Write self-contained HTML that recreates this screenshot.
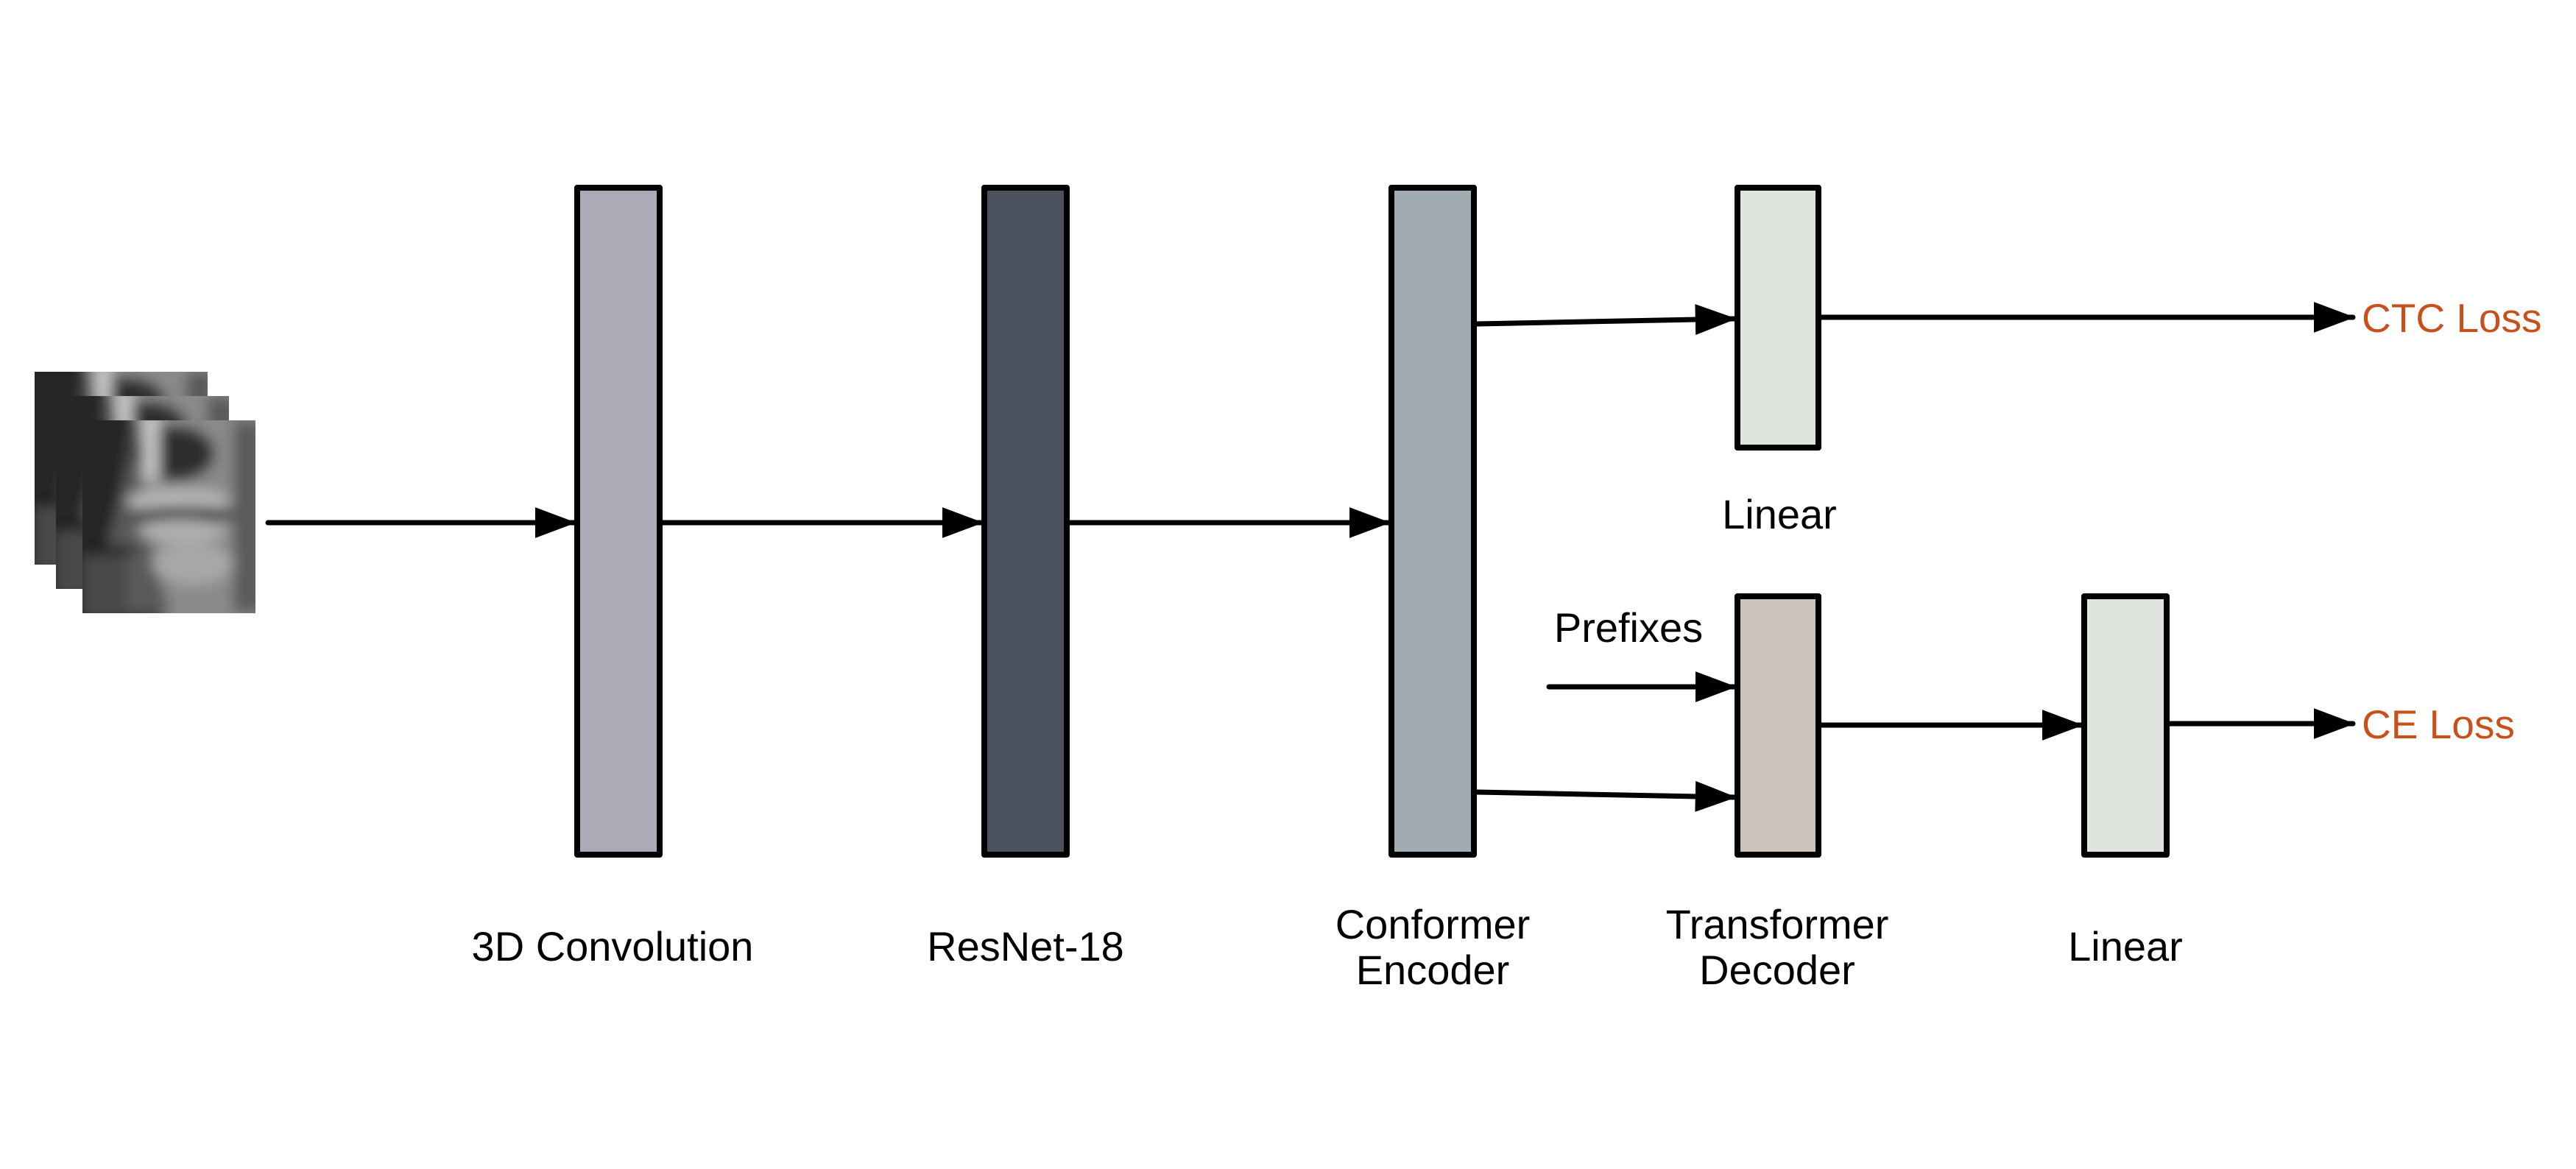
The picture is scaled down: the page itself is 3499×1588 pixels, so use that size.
<!DOCTYPE html>
<html><head><meta charset="utf-8"><style>
html,body{margin:0;padding:0;background:#fff;}
body{width:3499px;height:1583px;overflow:hidden;}
text{font-family:"Liberation Sans",sans-serif;}
</style></head><body>
<svg width="3499" height="1583" viewBox="0 0 3499 1583" xmlns="http://www.w3.org/2000/svg">
<defs>
<marker id="ah" markerWidth="8" markerHeight="6" refX="7.6" refY="3" orient="auto" markerUnits="strokeWidth">
<path d="M0,0 L8,3 L0,6 z" fill="#000"/>
</marker>
<filter id="bl" x="-20%" y="-20%" width="140%" height="140%"><feGaussianBlur stdDeviation="9"/></filter>
<clipPath id="fc"><rect x="0" y="0" width="235" height="262"/></clipPath>
<g id="face">
<g clip-path="url(#fc)">
<rect x="0" y="0" width="235" height="262" fill="#3a3a3a"/>
<g filter="url(#bl)">
<rect x="-20" y="-20" width="90" height="300" fill="#262626"/>
<path d="M70,-20 L260,-20 L260,290 L120,290 Q70,200 68,120 Z" fill="#8a8a8a"/>
<path d="M80,0 Q72,120 120,262 L60,262 Q20,200 40,150 Q60,80 70,0Z" fill="#5a5a5a"/>
<ellipse cx="125" cy="45" rx="55" ry="38" fill="#2e2e2e"/>
<ellipse cx="130" cy="110" rx="70" ry="18" fill="#b5b5b5"/>
<ellipse cx="140" cy="128" rx="75" ry="10" fill="#2a2a2a"/>
<ellipse cx="135" cy="150" rx="60" ry="16" fill="#b0b0b0"/>
<ellipse cx="150" cy="195" rx="55" ry="28" fill="#a8a8a8"/>
<rect x="205" y="0" width="40" height="262" fill="#5a5a5a"/>
<rect x="0" y="180" width="60" height="90" fill="#4a4a4a"/>
<rect x="0" y="170" width="70" height="12" fill="#151515"/>
<rect x="82" y="-10" width="22" height="90" fill="#c8c8c8"/>
</g>
</g>
</g>
</defs>
<use href="#face" x="47" y="505"/>
<use href="#face" x="76" y="538"/>
<use href="#face" x="112" y="571"/>

<g stroke="#000" stroke-width="8" stroke-linejoin="round">
<rect x="784" y="255" width="112" height="906" fill="#aaabb6"/>
<rect x="1337" y="255" width="112" height="906" fill="#4b525e"/>
<rect x="1890" y="255" width="112" height="906" fill="#a1acb2"/>
<rect x="2360" y="255" width="110" height="353" fill="#e0e4df"/>
<rect x="2360" y="810" width="110" height="351" fill="#cbc2bc"/>
<rect x="2831" y="810" width="112" height="351" fill="#e0e4df"/>
</g>
<g stroke="#000" stroke-width="7" fill="none" stroke-linecap="round" marker-end="url(#ah)">
<line x1="364" y1="710" x2="780" y2="710"/>
<line x1="899" y1="710" x2="1333" y2="710"/>
<line x1="1452" y1="710" x2="1886" y2="710"/>
<line x1="2005" y1="440" x2="2356" y2="433"/>
<line x1="2473" y1="431" x2="3196" y2="431"/>
<line x1="2104" y1="933" x2="2356" y2="933"/>
<line x1="2005" y1="1076" x2="2356" y2="1083"/>
<line x1="2473" y1="985" x2="2827" y2="985"/>
<line x1="2946" y1="983" x2="3196" y2="983"/>
</g>
<g font-size="56" fill="#000" text-anchor="middle">
<text x="832" y="1305">3D Convolution</text>
<text x="1393" y="1305">ResNet-18</text>
<text x="1946" y="1275">Conformer</text>
<text x="1946" y="1337">Encoder</text>
<text x="2414" y="1275">Transformer</text>
<text x="2414" y="1337">Decoder</text>
<text x="2887" y="1305">Linear</text>
<text x="2417" y="718">Linear</text>
<text x="2212" y="872">Prefixes</text>
</g>
<g font-size="55" fill="#c8501a">
<text x="3208" y="451">CTC Loss</text>
<text x="3208" y="1003">CE Loss</text>
</g>
</svg>
</body></html>
